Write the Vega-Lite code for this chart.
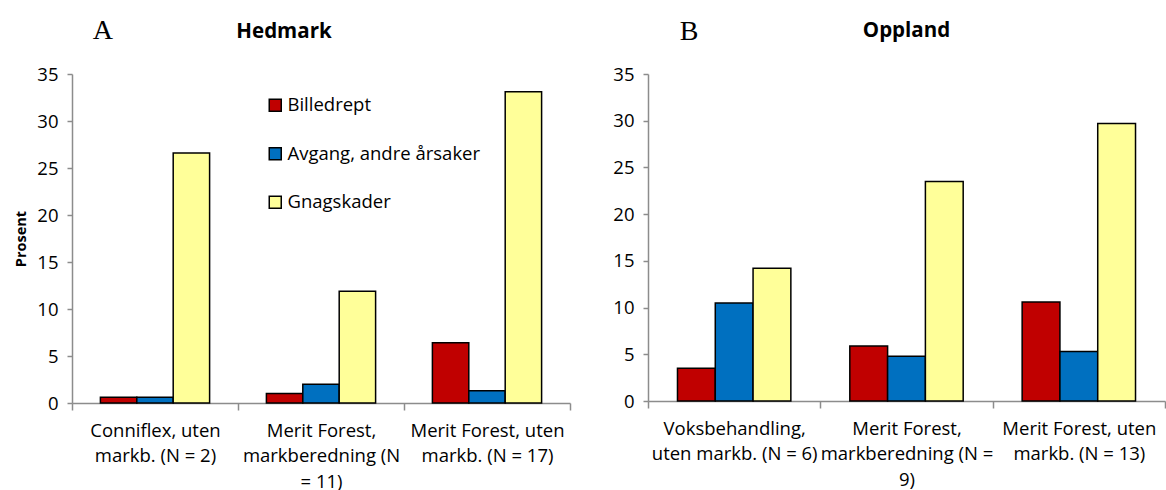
{
  "$schema": "https://vega.github.io/schema/vega-lite/v6.json",
  "padding": {"left": 13, "top": 16, "right": 0, "bottom": 0},
  "spacing": 41,
  "background": "white",
  "config": {
    "view": {"stroke": null},
    "font": "Open Sans",
    "axis": {"labelFont": "Open Sans", "titleFont": "Open Sans", "labelColor": "black", "titleColor": "black"}
  },
  "datasets": {
    "hedmark": [
      {"Behandling": "Conniflex, uten markb. (N = 2)", "Serie": "Billedrept", "Prosent": 0.6},
      {"Behandling": "Conniflex, uten markb. (N = 2)", "Serie": "Avgang, andre årsaker", "Prosent": 0.6},
      {"Behandling": "Conniflex, uten markb. (N = 2)", "Serie": "Gnagskader", "Prosent": 26.6},
      {"Behandling": "Merit Forest, markberedning (N = 11)", "Serie": "Billedrept", "Prosent": 1.0},
      {"Behandling": "Merit Forest, markberedning (N = 11)", "Serie": "Avgang, andre årsaker", "Prosent": 2.0},
      {"Behandling": "Merit Forest, markberedning (N = 11)", "Serie": "Gnagskader", "Prosent": 11.9},
      {"Behandling": "Merit Forest, uten markb. (N = 17)", "Serie": "Billedrept", "Prosent": 6.4},
      {"Behandling": "Merit Forest, uten markb. (N = 17)", "Serie": "Avgang, andre årsaker", "Prosent": 1.3},
      {"Behandling": "Merit Forest, uten markb. (N = 17)", "Serie": "Gnagskader", "Prosent": 33.1}
    ],
    "oppland": [
      {"Behandling": "Voksbehandling, uten markb. (N = 6)", "Serie": "Billedrept", "Prosent": 3.5},
      {"Behandling": "Voksbehandling, uten markb. (N = 6)", "Serie": "Avgang, andre årsaker", "Prosent": 10.5},
      {"Behandling": "Voksbehandling, uten markb. (N = 6)", "Serie": "Gnagskader", "Prosent": 14.2},
      {"Behandling": "Merit Forest, markberedning (N = 9)", "Serie": "Billedrept", "Prosent": 5.9},
      {"Behandling": "Merit Forest, markberedning (N = 9)", "Serie": "Avgang, andre årsaker", "Prosent": 4.8},
      {"Behandling": "Merit Forest, markberedning (N = 9)", "Serie": "Gnagskader", "Prosent": 23.5},
      {"Behandling": "Merit Forest, uten markb. (N = 13)", "Serie": "Billedrept", "Prosent": 10.6},
      {"Behandling": "Merit Forest, uten markb. (N = 13)", "Serie": "Avgang, andre årsaker", "Prosent": 5.3},
      {"Behandling": "Merit Forest, uten markb. (N = 13)", "Serie": "Gnagskader", "Prosent": 29.7}
    ]
  },
  "resolve": {"scale": {"color": "independent", "x": "independent", "y": "independent", "xOffset": "independent"}, "legend": {"color": "independent"}},
  "hconcat": [
    {
      "title": {"text": "A", "anchor": "start", "font": "Liberation Serif", "fontSize": 28, "fontWeight": "normal", "color": "black", "dx": 79, "offset": -23},
      "resolve": {"legend": {"color": "independent"}},
      "vconcat": [
        {
          "width": 498,
          "height": 329,
          "data": {"name": "hedmark"},
          "title": {"text": "Hedmark", "anchor": "middle", "dx": -37, "dy": -2, "font": "Open Sans", "fontSize": 20.5, "fontWeight": "bold", "color": "black", "offset": 21},
          "mark": {"type": "bar", "stroke": "black", "strokeWidth": 1.5},
          "encoding": {
            "x": {
              "field": "Behandling", "type": "nominal", "sort": null,
              "scale": {"paddingInner": 0, "paddingOuter": 0},
              "axis": {
                "title": null, "labelAngle": 0, "tickBand": "extent", "domainColor": "#8c8c8c", "tickColor": "#8c8c8c", "tickSize": 7, "domainWidth": 1.5, "tickWidth": 1.5,
                "labelFontSize": 18.5, "labelLimit": 400, "labelLineHeight": 25.5, "labelPadding": 11, "labelBaseline": "top",
                "labelExpr": "datum.label == 'Conniflex, uten markb. (N = 2)' ? ['Conniflex, uten', 'markb. (N = 2)'] : datum.label == 'Merit Forest, markberedning (N = 11)' ? ['Merit Forest,', 'markberedning (N', '= 11)'] : datum.label == 'Merit Forest, uten markb. (N = 17)' ? ['Merit Forest, uten', 'markb. (N = 17)'] : ''"
              }
            },
            "xOffset": {"field": "Serie", "type": "nominal", "sort": ["Billedrept", "Avgang, andre årsaker", "Gnagskader"], "scale": {"paddingInner": 0, "paddingOuter": 0.78}},
            "y": {
              "field": "Prosent", "type": "quantitative", "scale": {"domain": [0, 35], "nice": false},
              "axis": {
                "values": [0, 5, 10, 15, 20, 25, 30, 35], "grid": false, "domainColor": "#8c8c8c", "tickColor": "#8c8c8c", "tickSize": 5, "domainWidth": 1.5, "tickWidth": 1.5,
                "labelFontSize": 18.5, "labelPadding": 9, "title": "Prosent", "titleFontSize": 14.5, "titleFontWeight": "bold", "titlePadding": 8
              }
            },
            "color": {
              "field": "Serie", "type": "nominal",
              "scale": {"domain": ["Billedrept", "Avgang, andre årsaker", "Gnagskader"], "range": ["#C00000", "#0070C0", "#FFFF99"]},
              "legend": {
                "title": null, "orient": "none", "legendX": 194, "legendY": 22, "symbolType": "square", "symbolSize": 144,
                "symbolStrokeColor": "black", "symbolStrokeWidth": 1.5, "labelFontSize": 18.5, "labelFont": "Open Sans", "labelColor": "black", "rowPadding": 29.5, "labelOffset": 3, "labelLimit": 300
              }
            }
          }
        }
      ]
    },
    {
      "title": {"text": "B", "anchor": "start", "font": "Liberation Serif", "fontSize": 28, "fontWeight": "normal", "color": "black", "dx": 67, "offset": -25},
      "resolve": {"legend": {"color": "independent"}},
      "vconcat": [
        {
          "width": 517,
          "height": 327,
          "data": {"name": "oppland"},
          "title": {"text": "Oppland", "anchor": "middle", "font": "Open Sans", "fontSize": 20.5, "fontWeight": "bold", "color": "black", "offset": 28, "dy": 4},
          "mark": {"type": "bar", "stroke": "black", "strokeWidth": 1.5},
          "encoding": {
            "x": {
              "field": "Behandling", "type": "nominal", "sort": null,
              "scale": {"paddingInner": 0, "paddingOuter": 0},
              "axis": {
                "title": null, "labelAngle": 0, "tickBand": "extent", "domainColor": "#8c8c8c", "tickColor": "#8c8c8c", "tickSize": 7, "domainWidth": 1.5, "tickWidth": 1.5,
                "labelFontSize": 18.5, "labelLimit": 400, "labelLineHeight": 25.5, "labelPadding": 11, "labelBaseline": "top",
                "labelExpr": "datum.label == 'Voksbehandling, uten markb. (N = 6)' ? ['Voksbehandling,', 'uten markb. (N = 6)'] : datum.label == 'Merit Forest, markberedning (N = 9)' ? ['Merit Forest,', 'markberedning (N =', '9)'] : datum.label == 'Merit Forest, uten markb. (N = 13)' ? ['Merit Forest, uten', 'markb. (N = 13)'] : ''"
              }
            },
            "xOffset": {"field": "Serie", "type": "nominal", "sort": ["Billedrept", "Avgang, andre årsaker", "Gnagskader"], "scale": {"paddingInner": 0, "paddingOuter": 0.78}},
            "y": {
              "field": "Prosent", "type": "quantitative", "scale": {"domain": [0, 35], "nice": false},
              "axis": {
                "values": [0, 5, 10, 15, 20, 25, 30, 35], "grid": false, "domainColor": "#8c8c8c", "tickColor": "#8c8c8c", "tickSize": 5, "domainWidth": 1.5, "tickWidth": 1.5,
                "labelFontSize": 18.5, "labelPadding": 9, "title": null
              }
            },
            "color": {
              "field": "Serie", "type": "nominal",
              "scale": {"domain": ["Billedrept", "Avgang, andre årsaker", "Gnagskader"], "range": ["#C00000", "#0070C0", "#FFFF99"]},
              "legend": null
            }
          }
        }
      ]
    }
  ]
}
